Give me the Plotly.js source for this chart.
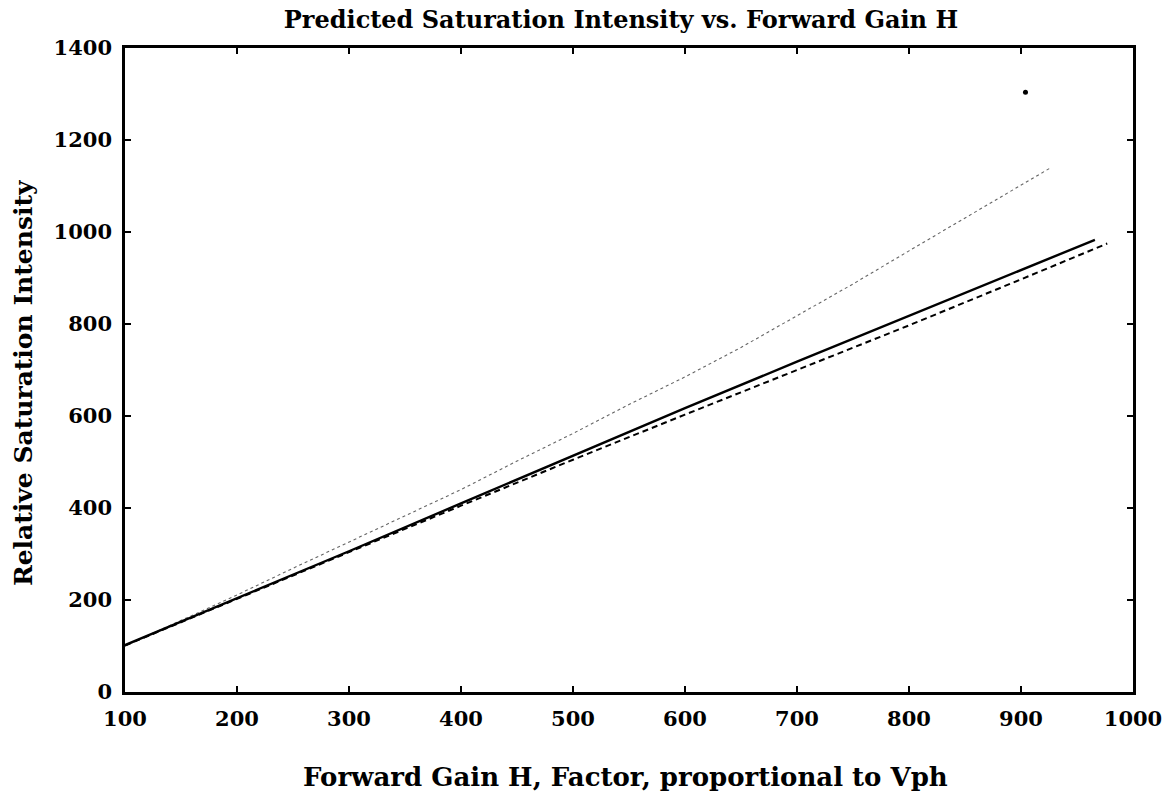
<!DOCTYPE html>
<html>
<head>
<meta charset="utf-8">
<script src="https://cdn.plot.ly/plotly-3.0.1.min.js"></script>
<style>html,body{margin:0;padding:0;background:#fff;}#chart{width:1171px;height:795px;}</style>
</head>
<body>
<div id="chart"></div>
<script>
// Forward gain H (x) values and predicted relative saturation intensities
const solidX  = [100, 200, 300, 400, 500, 600, 700, 800, 900, 966];
const solidY  = [102, 204, 306, 410, 513, 617, 718, 818, 917, 983];

const dashedX = [100, 200, 300, 400, 500, 600, 700, 800, 900, 977];
const dashedY = [101, 203, 304, 405, 505, 603, 700, 797, 897, 975];

const dottedX = [100, 150, 200, 250, 300, 350, 400, 450, 500, 550, 600, 650, 700, 750, 800, 850, 900, 926];
const dottedY = [100, 156, 211, 269, 326, 383, 440, 502, 562, 625, 685, 749, 818, 887, 959, 1030, 1102, 1139];

const markX = [904];
const markY = [1304];

const xTicks = [100, 200, 300, 400, 500, 600, 700, 800, 900, 1000];
const yTicks = [0, 200, 400, 600, 800, 1000, 1200, 1400];

const FONT = "DejaVu Serif";

const traces = [
  {x: dottedX, y: dottedY, mode: "lines", line: {color: "#666", width: 1.1, dash: "dot"}, hoverinfo: "skip"},
  {x: dashedX, y: dashedY, mode: "lines", line: {color: "#000", width: 2, dash: "6px,4px"}, hoverinfo: "skip"},
  {x: solidX, y: solidY, mode: "lines", line: {color: "#000", width: 2.4}, hoverinfo: "skip"},
  {x: markX, y: markY, mode: "markers", marker: {color: "#000", size: 5, symbol: "circle"}, hoverinfo: "skip"}
];

const axisCommon = {
  showgrid: false, zeroline: false,
  showline: true, linecolor: "#000", linewidth: 2.8, mirror: "ticks",
  ticks: "inside", ticklen: 6, tickwidth: 2, tickcolor: "#000",
  tickfont: {family: FONT, size: 21, color: "#000", weight: "bold"}
};

const layout = {
  width: 1171, height: 795,
  margin: {l: 125, r: 38, t: 48, b: 103},
  paper_bgcolor: "#fff", plot_bgcolor: "#fff",
  showlegend: false,
  title: {
    text: "<b>Predicted Saturation Intensity vs. Forward Gain H</b>",
    font: {family: FONT, size: 24, color: "#000"},
    x: 0.492, xanchor: "center", y: 0.975, yanchor: "middle", xref: "paper", yref: "container"
  },
  xaxis: Object.assign({}, axisCommon, {
    range: [100, 1000], tickvals: xTicks, ticktext: xTicks.map(String),
    ticklabelstandoff: 6
  }),
  yaxis: Object.assign({}, axisCommon, {
    range: [0, 1400], tickvals: yTicks, ticktext: yTicks.map(String),
    ticklabelstandoff: 6
  }),
  annotations: [
    {text: "<b>Forward Gain H, Factor, proportional to Vph</b>", xref: "paper", yref: "paper",
     x: 0.497, y: -0.132, xanchor: "center", yanchor: "middle", showarrow: false,
     font: {family: FONT, size: 26, color: "#000"}},
    {text: "<b>Relative Saturation Intensity</b>", xref: "paper", yref: "paper",
     x: -0.1, y: 0.48, xanchor: "center", yanchor: "middle", showarrow: false, textangle: -90,
     font: {family: FONT, size: 25, color: "#000"}}
  ]
};

Plotly.newPlot("chart", traces, layout, {displayModeBar: false, staticPlot: true});
</script>
</body>
</html>
